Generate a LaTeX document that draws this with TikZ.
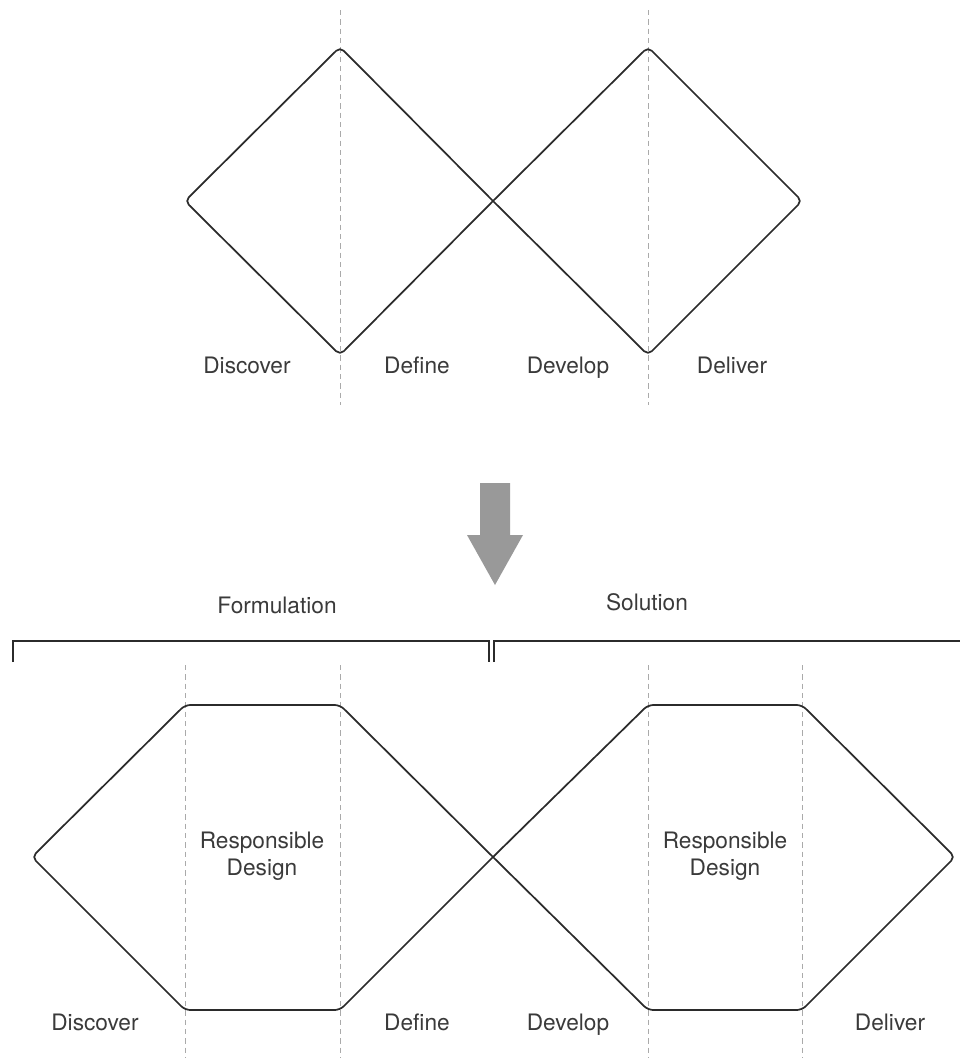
\documentclass[tikz,border=0pt]{standalone}
\usepackage{fontspec}
\setmainfont{TeX Gyre Heros}
\usepackage{xcolor}
\usetikzlibrary{calc}
\definecolor{ink}{HTML}{2B2B2B}
\definecolor{textgray}{HTML}{3A3A3A}
\definecolor{guide}{HTML}{AAAAAA}
\definecolor{arrowgray}{HTML}{999999}

\begin{document}
\begin{tikzpicture}[x=0.75pt, y=-0.75pt,
        outline/.style={draw=ink, line width=1.3pt, rounded corners=4pt, line join=round, line cap=round},
        guideline/.style={draw=guide, line width=0.6pt, dash pattern=on 4pt off 3pt},
        label/.style={text=textgray, font=\fontsize{17}{20}\selectfont, inner sep=0pt,
            text height=12pt, text depth=3.5pt},
        bracket/.style={draw=ink, line width=1.5pt}]

    \useasboundingbox (0,0) rectangle (960,1058);

    % guides
    \foreach \gx in {340,648}
        \draw[guideline] (\gx,10) -- (\gx,405);
    \foreach \gx in {185,340,648,802}
        \draw[guideline] (\gx,665) -- (\gx,1058);

    % double diamond
    \coordinate (mid) at (493,201);
    \draw[outline] (mid) -- (340,355) -- (185,201) -- (340,47) -- (mid);
    \draw[outline] (mid) -- (648,47) -- (802,201) -- (648,355) -- (mid);

    \node[label] (discover) at (247,368) {Discover};
    \node[label] (define) at (417,368) {Define};
    \node[label] (develop) at (568,368) {Develop};
    \node[label] (deliver) at (732,368) {Deliver};

    % arrow
    \fill[arrowgray] (480,483) -- (510,483) -- (510,535) -- (523,535)
        -- (495,585) -- (467,535) -- (480,535) -- cycle;

    % brackets
    \draw[bracket] (13,662) -- (13,641) -- (489,641) -- (489,662);
    \draw[bracket] (494,662) -- (494,641) -- (962,641);
    \node[label] (formulation) at (277,608) {Formulation};
    \node[label] (solution) at (647,605) {Solution};

    % hexagons
    \coordinate (hmid) at (493,857);
    \draw[outline] (hmid) -- (340,1010) -- (185,1010) -- (32,857)
        -- (185,705) -- (340,705) -- (hmid);
    \draw[outline] (hmid) -- (648,705) -- (802,705) -- (955,857)
        -- (802,1010) -- (648,1010) -- (hmid);

    \node[label, align=center, text height=, text depth=] (resp1) at (262,856) {Responsible\\Design};
    \node[label, align=center, text height=, text depth=] (resp2) at (725,856) {Responsible\\Design};

    \node[label] (discover2) at (95,1025) {Discover};
    \node[label] (define2) at (417,1025) {Define};
    \node[label] (develop2) at (568,1025) {Develop};
    \node[label] (deliver2) at (890,1025) {Deliver};

\end{tikzpicture}
\end{document}
